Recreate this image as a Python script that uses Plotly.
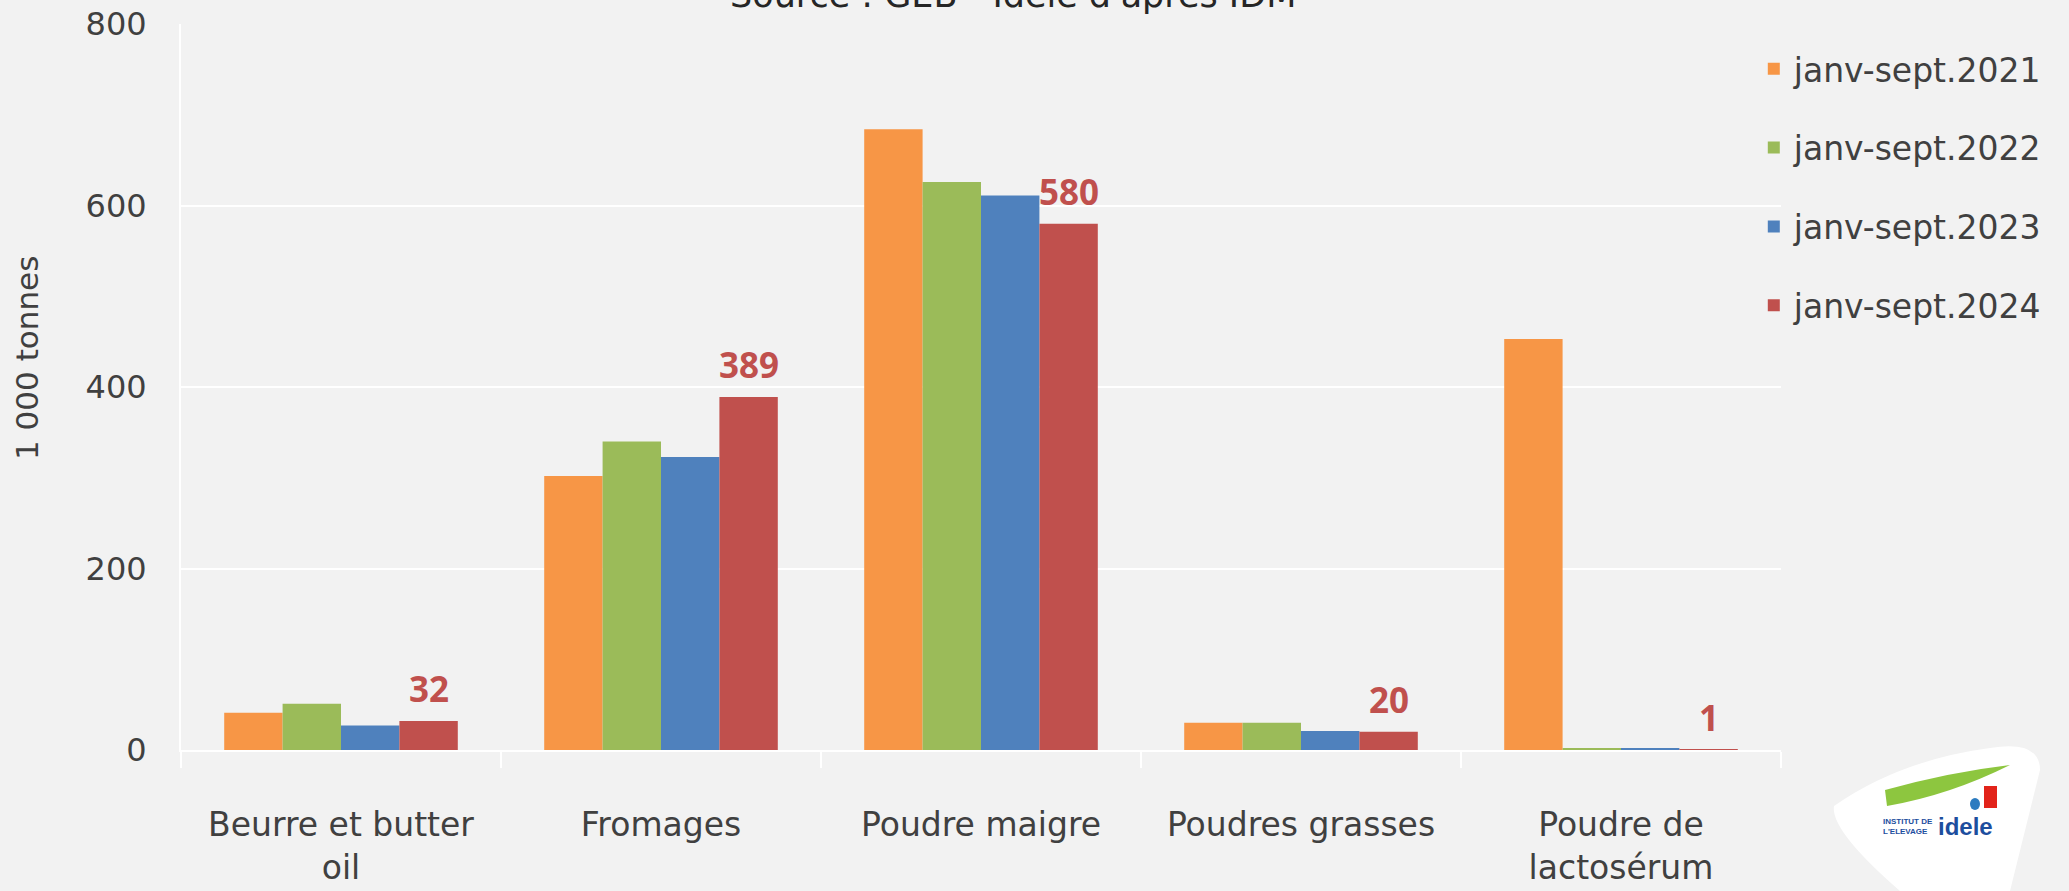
import plotly.graph_objects as go

# ── data ────────────────────────────────────────────────────────────────
categories = ["Beurre et butter<br>oil", "Fromages", "Poudre maigre",
              "Poudres grasses", "Poudre de<br>lactosérum"]
series_names = ["janv-sept.2021", "janv-sept.2022",
                "janv-sept.2023", "janv-sept.2024"]
v2021 = [41, 302, 684, 30, 453]
v2022 = [51, 340, 626, 30, 1.5]
v2023 = [27, 323, 611, 21, 1.5]
v2024 = [32, 389, 580, 20, 1]
labels_2024 = ["32", "389", "580", "20", "1"]

COLORS = ["#F79646", "#9BBB59", "#4F81BD", "#C0504D"]
TXT = "#404040"
BG = "#F2F2F2"
FONT = "DejaVu Sans, Open Sans, sans-serif"
BOLD = "Open Sans, DejaVu Sans, sans-serif"
BARGAP = 0.27

fig = go.Figure()

for i, (name, vals) in enumerate(zip(series_names, [v2021, v2022, v2023, v2024])):
    fig.add_trace(go.Bar(
        x=categories, y=vals,
        name=name,
        legendgroup=name,
        marker=dict(color=COLORS[i], line=dict(width=0)),
        hoverinfo="x+y+name",
    ))

# data labels on the 2024 bars (last bar of each group)
red_offset_px = ((1 - BARGAP) / 2 - (1 - BARGAP) / 8) * 320
for cat, val, lab in zip(categories, v2024, labels_2024):
    fig.add_annotation(
        x=cat, y=val, text=f"<b>{lab}</b>", showarrow=False,
        xshift=red_offset_px, yshift=32, yanchor="middle",
        font=dict(family=BOLD, size=35, color=COLORS[3]),
    )

# ── source line, cut at the top of the page ─────────────────────────────
fig.add_annotation(
    text="Source : GEB - Idele d'après IDM",
    xref="paper", yref="paper", x=0.52, y=1.0, yshift=29,
    xanchor="center", yanchor="middle", showarrow=False,
    font=dict(family=FONT, size=35, color="#262626"),
)

# y-axis title
fig.add_annotation(
    text="1 000 tonnes", textangle=-90,
    xref="paper", yref="paper", x=0, y=0.54, xshift=-154,
    xanchor="center", yanchor="middle", showarrow=False,
    font=dict(family=FONT, size=31, color=TXT),
)

# ── logo (white badge + idele mark) ─────────────────────────────────────
def px(xp, yp):
    return (xp - 181) / 1600, (750 - yp) / 726

pts = [px(1834, 806), px(1990, 748), px(2040, 770), px(2010, 891), px(1850, 830)]
path = (f"M {pts[0][0]},{pts[0][1]} Q {px(1900,760)[0]},{px(1900,760)[1]} {pts[1][0]},{pts[1][1]} "
        f"Q {px(2040,740)[0]},{px(2040,740)[1]} {pts[2][0]},{pts[2][1]} "
        f"L {pts[3][0]},{pts[3][1]} L {px(1900,891)[0]},{px(1900,891)[1]} "
        f"Q {px(1830,830)[0]},{px(1830,830)[1]} {pts[0][0]},{pts[0][1]} Z")
fig.add_shape(type="path", xref="paper", yref="paper", path=path,
              fillcolor="white", line=dict(width=0), layer="above")
g1, g2, g3 = px(1885, 790), px(1950, 772), px(2010, 765)
g4 = px(1950, 795)
fig.add_shape(type="path", xref="paper", yref="paper",
              path=f"M {g1[0]},{g1[1]} Q {g2[0]},{g2[1]} {g3[0]},{g3[1]} Q {g4[0]},{g4[1]} {px(1887,806)[0]},{px(1887,806)[1]} Z",
              fillcolor="#8DC63F", line=dict(width=0))
r1, r2 = px(1984, 786), px(1997, 808)
fig.add_shape(type="rect", xref="paper", yref="paper", x0=r1[0], y0=r1[1], x1=r2[0], y1=r2[1],
              fillcolor="#E2231A", line=dict(width=0))
b1, b2 = px(1970, 798), px(1980, 810)
fig.add_shape(type="circle", xref="paper", yref="paper", x0=b1[0], y0=b1[1], x1=b2[0], y1=b2[1],
              fillcolor="#2C7BC0", line=dict(width=0))
t1 = px(1935, 826)
fig.add_annotation(text="<b>INSTITUT DE<br>L'ELEVAGE</b>", xref="paper", yref="paper",
                   x=t1[0], y=t1[1], xanchor="right", yanchor="middle", showarrow=False,
                   font=dict(family="Liberation Sans", size=8, color="#1D4E9E"),
                   align="left")
t2 = px(1936, 826)
fig.add_annotation(text="<b>idele</b>", xref="paper", yref="paper",
                   x=t2[0], y=t2[1], xanchor="left", yanchor="middle", showarrow=False,
                   font=dict(family="Liberation Sans", size=24, color="#1D4E9E"))

fig.update_layout(
    width=2069, height=891,
    paper_bgcolor=BG, plot_bgcolor=BG,
    font=dict(family=FONT, color=TXT, size=30),
    barmode="group", bargap=BARGAP, bargroupgap=0,
    margin=dict(l=181, r=288, t=24, b=141),
    showlegend=True,
    legend=dict(
        x=0.983, y=0.977, xanchor="left", yanchor="top",
        bgcolor="rgba(0,0,0,0)",
        font=dict(family=FONT, size=33, color=TXT),
        tracegroupgap=33,
        traceorder="grouped",
    ),
    xaxis=dict(
        type="category",
        automargin=False,
        showgrid=False,
        showline=True, linecolor="white", linewidth=2,
        ticks="outside", tickson="boundaries", ticklen=16, tickcolor="white", tickwidth=2,
        tickfont=dict(family=FONT, size=33, color=TXT),
        ticklabelstandoff=44,
        zeroline=False,
    ),
    yaxis=dict(
        range=[0, 800], tickvals=[0, 200, 400, 600, 800],
        automargin=False,
        showgrid=True, gridcolor="white", gridwidth=2,
        showline=True, linecolor="white", linewidth=2,
        zeroline=False,
        ticks="", ticklabelstandoff=26,
        tickfont=dict(family=FONT, size=32, color=TXT),
    ),
)

fig.write_html(
    "out.html",
    config={"displayModeBar": False},
    post_script="document.body.style.margin='0';document.body.style.overflow='hidden';",
)
